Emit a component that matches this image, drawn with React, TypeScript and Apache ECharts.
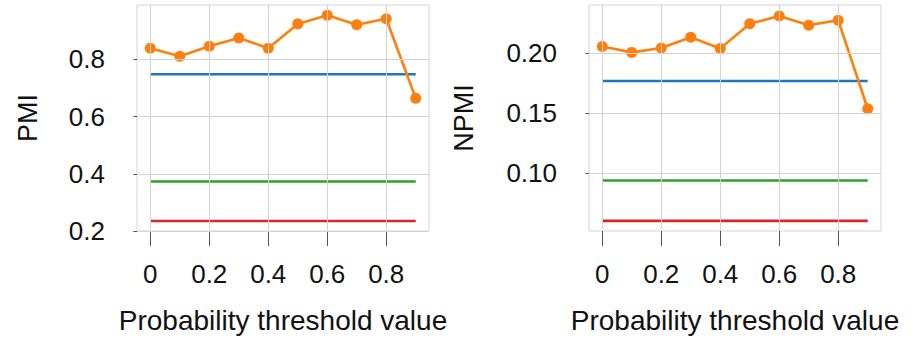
import React, { useEffect, useRef } from "react";
import * as echarts from "echarts";

// ---- Data ----
const thresholds = [0, 0.1, 0.2, 0.3, 0.4, 0.5, 0.6, 0.7, 0.8, 0.9];
const pmiOurs = [0.839, 0.811, 0.846, 0.875, 0.839, 0.924, 0.954, 0.921, 0.942, 0.664];
const npmiOurs = [0.2054, 0.2005, 0.2041, 0.2131, 0.2038, 0.2243, 0.2308, 0.2232, 0.2273, 0.1535];
const pmiBlue = 0.748;
const pmiGreen = 0.373;
const pmiRed = 0.235;
const npmiBlue = 0.1767;
const npmiGreen = 0.0937;
const npmiRed = 0.06;

const xTicks = [0, 0.2, 0.4, 0.6, 0.8];
const pmiTicks = [0.2, 0.4, 0.6, 0.8];
const npmiTicks = [0.1, 0.15, 0.2];

const FONT = "Liberation Sans, Arial, Helvetica, sans-serif";
const ORANGE = "#ff7f0e";
const BLUE = "#1f77b4";
const GREEN = "#2ca02c";
const RED = "#d62728";
const GRIDC = "#d3d3d3";

function flat(v: number) {
  return [
    [thresholds[0], v],
    [thresholds[thresholds.length - 1], v],
  ];
}

function gridSeries(idx: number, yTicks: number[]) {
  return {
    type: "line",
    xAxisIndex: idx,
    yAxisIndex: idx,
    data: [],
    z: 1,
    silent: true,
    markLine: {
      silent: true,
      symbol: "none",
      label: { show: false },
      emphasis: { disabled: true },
      lineStyle: { color: GRIDC, width: 1, type: "solid" },
      animation: false,
      data: [
        ...xTicks.map((v) => ({ xAxis: v })),
        ...yTicks.map((v) => ({ yAxis: v })),
      ],
    },
  };
}

function flatSeries(idx: number, v: number, color: string) {
  return {
    type: "line",
    xAxisIndex: idx,
    yAxisIndex: idx,
    data: flat(v),
    showSymbol: false,
    symbol: "none",
    z: 2,
    lineStyle: { color, width: 2.6 },
  };
}

function mainSeries(idx: number, vals: number[]) {
  return {
    type: "line",
    xAxisIndex: idx,
    yAxisIndex: idx,
    data: thresholds.map((t, i) => [t, vals[i]]),
    symbol: "circle",
    symbolSize: 11,
    z: 3,
    itemStyle: { color: ORANGE },
    lineStyle: { color: ORANGE, width: 2.6 },
  };
}

function xAxis(idx: number) {
  return {
    type: "value",
    gridIndex: idx,
    min: -0.045,
    max: 0.945,
    name: "Probability threshold value",
    nameLocation: "middle",
    nameGap: 75,
    nameTextStyle: { fontFamily: FONT, fontSize: 28, color: "#111" },
    axisLine: { show: false },
    axisTick: {
      show: true,
      length: 15,
      customValues: xTicks,
      lineStyle: { color: "#555", width: 1 },
    },
    axisLabel: {
      show: true,
      customValues: xTicks,
      margin: 30,
      fontFamily: FONT,
      fontSize: 26,
      color: "#111",
      formatter: (v: number) => (v === 0 ? "0" : v.toFixed(1)),
    },
    splitLine: { show: false },
  };
}

function yAxis(
  idx: number,
  name: string,
  min: number,
  max: number,
  ticks: number[],
  digits: number,
  gap: number
) {
  return {
    type: "value",
    gridIndex: idx,
    min,
    max,
    name,
    nameLocation: "middle",
    nameGap: gap,
    nameRotate: 90,
    nameTextStyle: { fontFamily: FONT, fontSize: 27, color: "#111" },
    axisLine: { show: false },
    axisTick: {
      show: true,
      length: 17,
      customValues: ticks,
      lineStyle: { color: "#555", width: 1 },
    },
    axisLabel: {
      show: true,
      customValues: ticks,
      margin: 32,
      fontFamily: FONT,
      fontSize: 26,
      color: "#111",
      formatter: (v: number) => v.toFixed(digits),
    },
    splitLine: { show: false },
  };
}

export default function App() {
  const ref = useRef<HTMLDivElement>(null);
  useEffect(() => {
    document.body.style.margin = "0";
    if (!ref.current) return;
    const chart = echarts.init(ref.current, undefined, { renderer: "svg" });
    chart.setOption({
      animation: false,
      backgroundColor: "#fff",
      grid: [
        {
          left: 137,
          right: 491,
          top: 5,
          bottom: 107,
          show: true,
          borderColor: GRIDC,
          borderWidth: 1,
          backgroundColor: "transparent",
        },
        {
          left: 589,
          right: 39,
          top: 5,
          bottom: 107,
          show: true,
          borderColor: GRIDC,
          borderWidth: 1,
          backgroundColor: "transparent",
        },
      ],
      xAxis: [xAxis(0), xAxis(1)],
      yAxis: [
        yAxis(0, "PMI", 0.2, 0.99, pmiTicks, 1, 96),
        yAxis(1, "NPMI", 0.0516, 0.24, npmiTicks, 2, 112),
      ],
      series: [
        gridSeries(0, pmiTicks),
        flatSeries(0, pmiBlue, BLUE),
        flatSeries(0, pmiGreen, GREEN),
        flatSeries(0, pmiRed, RED),
        mainSeries(0, pmiOurs),
        gridSeries(1, npmiTicks),
        flatSeries(1, npmiBlue, BLUE),
        flatSeries(1, npmiGreen, GREEN),
        flatSeries(1, npmiRed, RED),
        mainSeries(1, npmiOurs),
      ],
    });
    return () => chart.dispose();
  }, []);
  return <div ref={ref} style={{ width: 920, height: 339 }} />;
}
